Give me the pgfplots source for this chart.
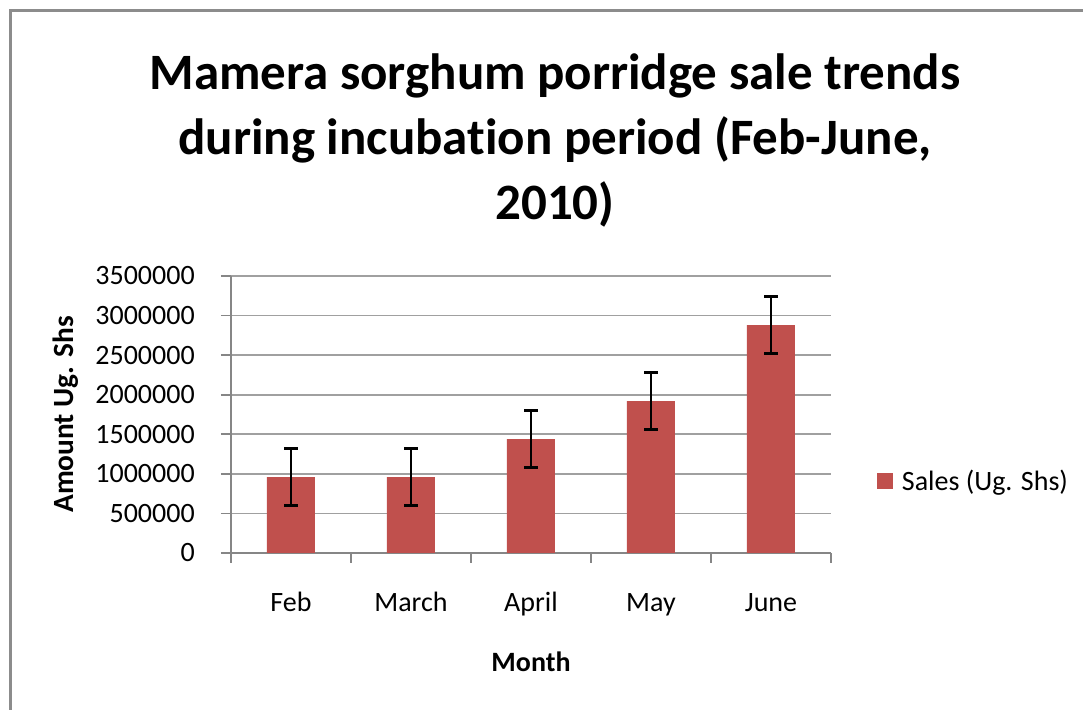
\documentclass[border=0pt]{standalone}
\usepackage{pgfplots}
\pgfplotsset{compat=1.18}
\usepackage{fontspec}
\setmainfont{Carlito}[Ligatures={NoCommon}]
\definecolor{barred}{HTML}{C0504D}
\definecolor{axgray}{HTML}{868686}
\definecolor{gridgray}{HTML}{A0A0A0}
\definecolor{framegray}{HTML}{8C8C8C}
\begin{document}
\begin{tikzpicture}
\useasboundingbox (0,0) rectangle (812.25pt,532.5pt);
\draw[framegray, line width=2.25pt] (7.9pt,-5pt) -- (7.9pt,524.25pt) -- (830pt,524.25pt);
\node[anchor=base, font=\fontsize{38.25}{48.75}\selectfont\bfseries] at (416.25pt,465pt) {Mamera sorghum porridge sale trends};
\node[anchor=base, font=\fontsize{38.25}{48.75}\selectfont\bfseries] at (416.25pt,416.25pt) {during incubation period (Feb-June,};
\node[anchor=base, font=\fontsize{38.25}{48.75}\selectfont\bfseries] at (416.25pt,367.5pt) {2010)};
\begin{axis}[
  at={(173.25pt,117.75pt)}, anchor=south west,
  scale only axis, width=450pt, height=207.75pt,
  xmin=-0.5, xmax=4.5, ymin=0, ymax=3500000,
  axis x line*=bottom, axis y line*=left,
  axis line style={axgray, line width=1.3pt},
  ymajorgrids, grid style={gridgray, line width=1.3pt},
  ytick={0,500000,...,3500000},
  scaled y ticks=false,
  yticklabel style={/pgf/number format/fixed, /pgf/number format/1000 sep={}, /pgf/number format/assume math mode=true, font=\fontsize{21}{25}\selectfont, anchor=east, inner sep=0pt, xshift=-19.5pt},
  tick align=outside, major tick length=7.5pt,
  tick style={axgray, line width=1.3pt},
  xtick={-0.5,0.5,1.5,2.5,3.5,4.5}, xticklabels={},
  extra x ticks={0,1,2,3,4},
  extra x tick labels={Feb,March,April,May,June},
  extra x tick style={major tick length=0pt, tick style={draw=none}, grid=none,
     xticklabel style={font=\fontsize{21}{25}\selectfont, anchor=base, yshift=-44.25pt}},
  every axis y label/.style={at={(rel axis cs:-0.275,0.5)}, rotate=90, anchor=center, font=\fontsize{22}{26}\selectfont\bfseries},
  every axis x label/.style={at={(rel axis cs:0.5,-0.3935)}, anchor=center, font=\fontsize{21}{25}\selectfont\bfseries},
  ylabel={Amount Ug. Shs}, xlabel={Month},
  legend style={draw=none, fill=none, at={(1.0767,0.26)}, anchor=west, inner sep=0pt, font=\fontsize{21}{25}\selectfont,
    /tikz/every odd column/.append style={column sep=4.5pt}},
  legend image code/.code={\fill[barred] (0pt,-6pt) rectangle (12pt,6pt);},
]
\addplot[ybar, fill=barred, draw=none, bar width=36pt,
  error bars/.cd, y dir=both, y explicit,
  error bar style={line width=2.2pt, black},
  error mark options={rotate=90, mark size=4.9pt, line width=2.2pt, black}]
  table[x=x, y=y, y error=e] {
x y e
0 960000 355000
1 960000 355000
2 1440000 362000
3 1920000 362000
4 2880000 362000
};
\addlegendentry{Sales (Ug. Shs)}
\end{axis}
\end{tikzpicture}
\end{document}
